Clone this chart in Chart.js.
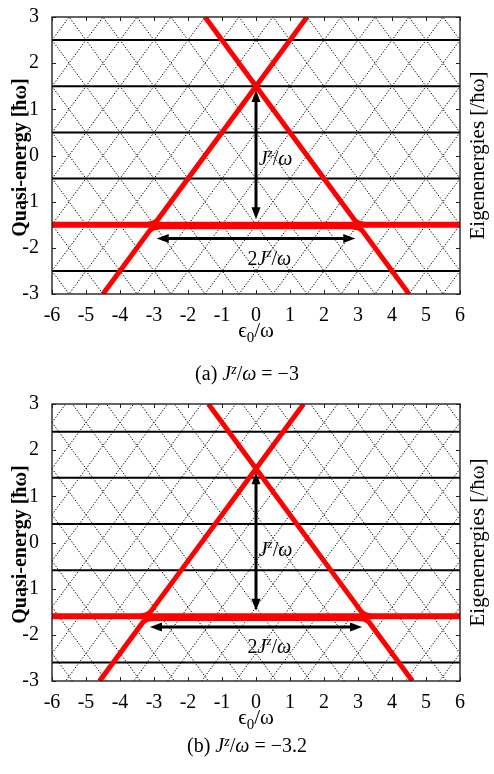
<!DOCTYPE html>
<html>
<head>
<meta charset="utf-8">
<script src="https://cdn.jsdelivr.net/npm/chart.js@4/dist/chart.umd.min.js"></script>
<style>
body{margin:0;background:#fff;width:494px;height:774px;overflow:hidden;font-family:"Liberation Serif","DejaVu Serif",serif}
.panel{position:absolute;left:0;width:494px;height:387px}
.cap{position:absolute;left:0;width:494px;text-align:center;font-size:20px;line-height:24px;color:#000}
.cap i{font-style:italic}
.cap sup{font-size:14px;font-style:italic;vertical-align:6px;line-height:0}
</style>
</head>
<body>
<div class="panel" style="top:0"><canvas id="pa"></canvas></div>
<div class="panel" style="top:387px"><canvas id="pb"></canvas></div>
<div class="cap" style="top:361px">(a) <i>J</i><sup>z</sup>/<i>ω</i> = −3</div>
<div class="cap" style="top:733px">(b) <i>J</i><sup>z</sup>/<i>ω</i> = −3.2</div>
<script>
const epsTicks = [-6,-5,-4,-3,-2,-1,0,1,2,3,4,5,6];
const energyTicks = [-3,-2,-1,0,1,2,3];

// (a) Jz/w = -3
// dotted lines E = eps + c and E = -eps + c
const riseA = [-8.5,-7.5,-6.5,-5.5,-4.5,-3.5,-2.5,-1.5,-0.5,0.5,1.5,2.5,3.5,4.5,5.5,6.5,7.5,8.5];
const fallA = [-8.5,-7.5,-6.5,-5.5,-4.5,-3.5,-2.5,-1.5,-0.5,0.5,1.5,2.5,3.5,4.5,5.5,6.5,7.5,8.5];
const levelsA = [-2.5,-1.5,-0.5,0.5,1.5,2.5];
const redFlatA = -1.5;
const redLowXA = [-4.5,-3.12,-3.0,-2.8,2.8,3.0,3.12,4.5];
const redLowYA = [-3,-1.62,-1.565,-1.545,-1.545,-1.565,-1.62,-3];
const redUpLXA = [-3.2,-3.02,-2.92,1.5];
const redUpLYA = [-1.5,-1.46,-1.42,3];
const redUpRXA = [-1.5,2.92,3.02,3.2];
const redUpRYA = [3,-1.42,-1.46,-1.5];
const vArrowA = [0, 1.42, -1.38];   // eps, from, to
const hArrowA = [-1.8, -2.92, 2.92]; // E, from, to

// (b) Jz/w = -3.2
const riseB = [-8.4,-7.4,-6.4,-5.4,-4.4,-3.4,-2.4,-1.4,-0.4,0.6,1.6,2.6,3.6,4.6,5.6,6.6,7.6,8.6];
const fallB = [-8.4,-7.4,-6.4,-5.4,-4.4,-3.4,-2.4,-1.4,-0.4,0.6,1.6,2.6,3.6,4.6,5.6,6.6,7.6,8.6];
const levelsB = [-2.6,-1.6,-0.6,0.4,1.4,2.4];
const redFlatB = -1.6;
const redLowXB = [-4.6,-3.32,-3.2,-3.0,3.0,3.2,3.32,4.6];
const redLowYB = [-3,-1.72,-1.665,-1.645,-1.645,-1.665,-1.72,-3];
const redUpLXB = [-3.4,-3.22,-3.12,1.4];
const redUpLYB = [-1.6,-1.56,-1.52,3];
const redUpRXB = [-1.4,3.12,3.22,3.4];
const redUpRYB = [3,-1.52,-1.56,-1.6];
const vArrowB = [0, 1.52, -1.48];
const hArrowB = [-1.83, -3.12, 3.12];

const SERIF = '"Liberation Serif","DejaVu Serif",serif';

function pts(xs, ys){ return xs.map((x,i)=>({x:x, y:ys[i]})); }

function arrowHead(ctx, x, y, ang){
  ctx.save();
  ctx.translate(x,y); ctx.rotate(ang);
  ctx.beginPath(); ctx.moveTo(0,0); ctx.lineTo(-12,-4.5); ctx.lineTo(-12,4.5); ctx.closePath();
  ctx.fill(); ctx.restore();
}

const decor = {
  id:'decor',
  afterDatasetsDraw(chart, args, o){
    const ctx = chart.ctx, xs = chart.scales.x, ys = chart.scales.y;
    ctx.save();
    ctx.strokeStyle = '#000'; ctx.fillStyle = '#000'; ctx.lineWidth = 3;
    // vertical arrow
    let vx = xs.getPixelForValue(o.v[0]), y1 = ys.getPixelForValue(o.v[1]), y2 = ys.getPixelForValue(o.v[2]);
    ctx.beginPath(); ctx.moveTo(vx, y1+8); ctx.lineTo(vx, y2-8); ctx.stroke();
    arrowHead(ctx, vx, y1, -Math.PI/2); arrowHead(ctx, vx, y2, Math.PI/2);
    // horizontal arrow
    let hy = ys.getPixelForValue(o.h[0]), x1 = xs.getPixelForValue(o.h[1]), x2 = xs.getPixelForValue(o.h[2]);
    ctx.beginPath(); ctx.moveTo(x1+8, hy); ctx.lineTo(x2-8, hy); ctx.stroke();
    arrowHead(ctx, x1, hy, Math.PI); arrowHead(ctx, x2, hy, 0);
    // labels
    ctx.textBaseline = 'alphabetic'; ctx.textAlign = 'left';
    o.labels.forEach(l => {
      let x = xs.getPixelForValue(l.x), y = ys.getPixelForValue(l.y);
      ctx.font = 'italic 20px ' + SERIF;
      if (l.pre){ ctx.font = '20px ' + SERIF; ctx.fillText(l.pre, x, y); x += ctx.measureText(l.pre).width; ctx.font = 'italic 20px ' + SERIF; }
      ctx.fillText('J', x, y); x += ctx.measureText('J').width;
      ctx.font = 'italic 13px ' + SERIF; ctx.fillText('z', x, y-8); x += ctx.measureText('z').width;
      ctx.font = '20px ' + SERIF; ctx.fillText('/', x, y); x += ctx.measureText('/').width;
      ctx.font = 'italic 20px ' + SERIF; ctx.fillText('ω', x, y);
    });
    ctx.restore();
  },
  afterDraw(chart){
    const ctx = chart.ctx, a = chart.chartArea, xs = chart.scales.x, ys = chart.scales.y;
    ctx.save();
    ctx.strokeStyle = '#222'; ctx.lineWidth = 1.4;
    ctx.strokeRect(a.left, a.top, a.right-a.left, a.bottom-a.top);
    ctx.lineWidth = 1;
    ctx.beginPath();
    epsTicks.forEach(t => {
      const p = Math.round(xs.getPixelForValue(t)) + 0.5;
      ctx.moveTo(p, a.top); ctx.lineTo(p, a.top+4);
      ctx.moveTo(p, a.bottom); ctx.lineTo(p, a.bottom-4);
    });
    energyTicks.forEach(t => {
      const p = Math.round(ys.getPixelForValue(t)) + 0.5;
      ctx.moveTo(a.left, p); ctx.lineTo(a.left+4, p);
      ctx.moveTo(a.right, p); ctx.lineTo(a.right-4, p);
    });
    ctx.stroke();
    ctx.fillStyle = '#000';
    const cy = (a.top + a.bottom)/2 + 2;
    // left title
    ctx.save(); ctx.translate(21, cy); ctx.rotate(-Math.PI/2);
    ctx.textAlign = 'center'; ctx.textBaseline = 'middle';
    ctx.font = 'bold 20px ' + SERIF;
    ctx.fillText('Quasi-energy [ħω]', 0, 0, 182);
    ctx.restore();
    // right title
    ctx.save(); ctx.translate(478, cy - 2); ctx.rotate(-Math.PI/2);
    ctx.textAlign = 'center'; ctx.textBaseline = 'middle';
    ctx.font = '21px ' + SERIF;
    ctx.fillText('Eigenenergies [/ħω]', 0, 0, 186);
    ctx.restore();
    // x title
    ctx.textBaseline = 'alphabetic'; ctx.textAlign = 'left';
    ctx.font = '21px ' + SERIF;
    const w1 = ctx.measureText('ϵ').width;
    ctx.font = '15px ' + SERIF; const w2 = ctx.measureText('0').width;
    ctx.font = '21px ' + SERIF; const w3 = ctx.measureText('/ω').width;
    let x = 256 - (w1+w2+w3)/2, by = a.bottom + 43;
    ctx.fillText('ϵ', x, by); x += w1;
    ctx.font = '15px ' + SERIF; ctx.fillText('0', x, by+5); x += w2;
    ctx.font = '21px ' + SERIF; ctx.fillText('/ω', x, by);
    ctx.restore();
  }
};

function makeChart(id, d){
  const datasets = [];
  d.rise.forEach(c => datasets.push({data:[{x:-6,y:-6+c},{x:6,y:6+c}], borderColor:'#000', borderWidth:1, borderDash:[1.3,1.7], order:3}));
  d.fall.forEach(c => datasets.push({data:[{x:-6,y:6+c},{x:6,y:-6+c}], borderColor:'#000', borderWidth:1, borderDash:[1.3,1.7], order:3}));
  d.levels.forEach(e => datasets.push({data:[{x:-6,y:e},{x:6,y:e}], borderColor:'#000', borderWidth:2, order:2}));
  datasets.push({data:[{x:-6,y:d.flat},{x:6,y:d.flat}], borderColor:'#ff0000', borderWidth:6, order:1});
  datasets.push({data:pts(d.lowX, d.lowY), borderColor:'#ff0000', borderWidth:5, order:1});
  datasets.push({data:pts(d.upLX, d.upLY), borderColor:'#ff0000', borderWidth:5, order:1});
  datasets.push({data:pts(d.upRX, d.upRY), borderColor:'#ff0000', borderWidth:5, order:1});
  datasets.forEach(ds => { ds.showLine = true; ds.pointRadius = 0; ds.tension = 0; ds.clip = 0; ds.borderCapStyle = 'butt'; });

  new Chart(document.getElementById(id), {
    type:'scatter',
    data:{datasets:datasets},
    options:{
      responsive:false, animation:false, devicePixelRatio:1,
      layout:{padding:{top:17, left:0, right:0, bottom:0}},
      plugins:{legend:{display:false}, tooltip:{enabled:false},
        decor:{v:d.v, h:d.h, labels:d.labels}},
      scales:{
        x:{type:'linear', position:'bottom', min:-6, max:6,
           afterBuildTicks: s => { s.ticks = epsTicks.map(v => ({value:v})); },
           afterFit: s => { s.height = 93; },
           grid:{display:false}, border:{display:false},
           ticks:{color:'#000', font:{family:SERIF, size:20}, padding:2, maxRotation:0, autoSkip:false,
                  callback: v => String(v)}},
        y:{type:'linear', position:'left', min:-3, max:3,
           afterBuildTicks: s => { s.ticks = energyTicks.map(v => ({value:v})); },
           afterFit: s => { s.width = 52; },
           grid:{display:false}, border:{display:false},
           ticks:{color:'#000', font:{family:SERIF, size:20}, padding:5, callback: v => String(v)}},
        y2:{type:'linear', position:'right', min:-3, max:3,
           afterFit: s => { s.width = 34; },
           grid:{display:false}, border:{display:false}, ticks:{display:false}}
      }
    },
    plugins:[decor]
  });
}

function sizeCanvas(id){ const c = document.getElementById(id); c.width = 494; c.height = 387; c.style.width='494px'; c.style.height='387px'; }
sizeCanvas('pa'); sizeCanvas('pb');

makeChart('pa', {rise:riseA, fall:fallA, levels:levelsA, flat:redFlatA,
  lowX:redLowXA, lowY:redLowYA, upLX:redUpLXA, upLY:redUpLYA, upRX:redUpRXA, upRY:redUpRYA,
  v:vArrowA, h:hArrowA,
  labels:[{x:0.08, y:-0.2}, {x:-0.25, y:-2.38, pre:'2'}]});
makeChart('pb', {rise:riseB, fall:fallB, levels:levelsB, flat:redFlatB,
  lowX:redLowXB, lowY:redLowYB, upLX:redUpLXB, upLY:redUpLYB, upRX:redUpRXB, upRY:redUpRYB,
  v:vArrowB, h:hArrowB,
  labels:[{x:0.08, y:-0.3}, {x:-0.25, y:-2.4, pre:'2'}]});
</script>
</body>
</html>
